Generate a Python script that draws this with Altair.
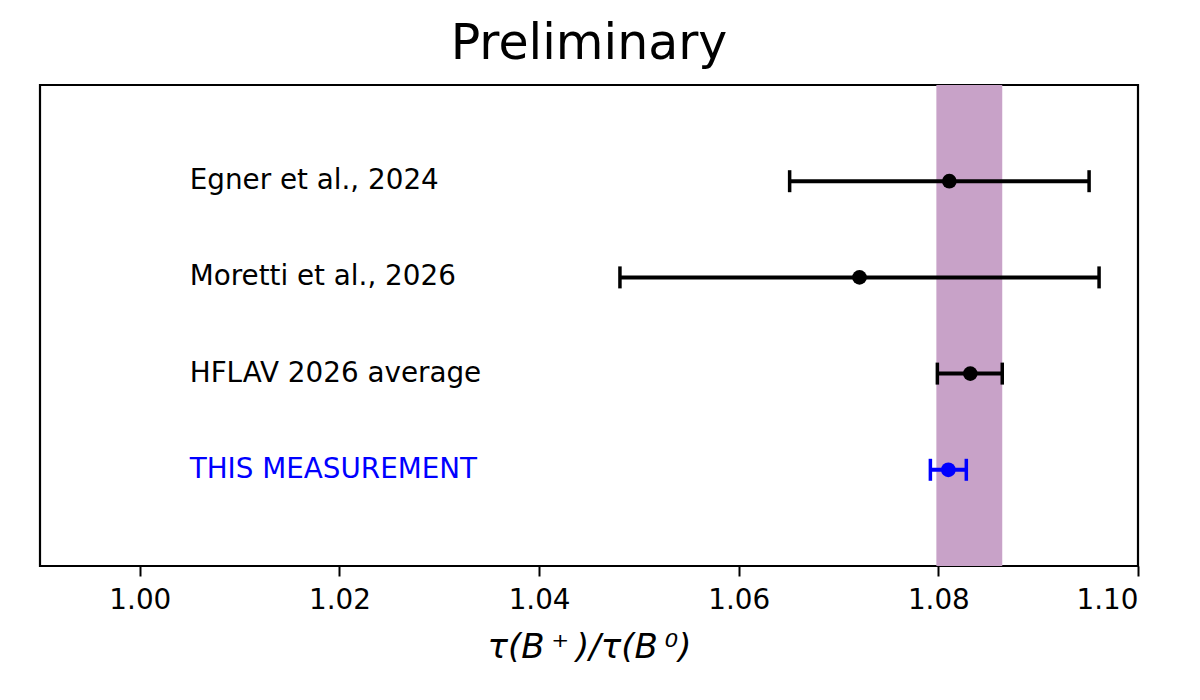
import altair as alt
import pandas as pd

labels = ["Egner et al., 2024", "Moretti et al., 2026", "HFLAV 2026 average", "THIS MEASUREMENT"]
ypos = [4, 3, 2, 1]
center = [1.0811, 1.0721, 1.0832, 1.0810]
lo = [1.0651, 1.0481, 1.0799, 1.0792]
hi = [1.0951, 1.0961, 1.0864, 1.0828]
colors = ["black", "black", "black", "blue"]
band_lo = [1.0798]
band_hi = [1.0864]
xticks = [1.00, 1.02, 1.04, 1.06, 1.08, 1.10]

df = pd.DataFrame({"label": labels, "y": ypos, "c": center, "lo": lo, "hi": hi, "col": colors})
band = pd.DataFrame({"lo": band_lo, "hi": band_hi})

W, H = 1098, 481
FONT = "DejaVu Sans"

xscale = alt.Scale(domain=[0.99, 1.10], nice=False, zero=False)
yscale = alt.Scale(domain=[0, 5], nice=False, zero=False)

xaxis = alt.Axis(values=xticks, format=".2f", title="τ(B\u2009⁺\u2009)/τ(B\u2009⁰)", grid=False, domain=False,
                 tickSize=10, tickWidth=2, tickColor="black", labelPadding=10,
                 labelFontSize=27.8, labelFont=FONT, labelColor="black",
                 titleFont=FONT, titleFontSize=34, titleFontWeight="normal", titleFontStyle="italic",
                 titleColor="black", titleBaseline="alphabetic", titleY=91)

base = alt.Chart(df)

bandlayer = alt.Chart(band).mark_rect(color="#C8A2C8", opacity=1).encode(
    x=alt.X("lo:Q", scale=xscale, axis=xaxis),
    x2="hi:Q",
    y=alt.value(0),
    y2=alt.value(H),
)

bars = base.mark_rule(strokeWidth=4, opacity=1).encode(
    x=alt.X("lo:Q", scale=xscale),
    x2="hi:Q",
    y=alt.Y("y:Q", scale=yscale, axis=None),
    color=alt.Color("col:N", scale=None),
)

caps_lo = base.mark_tick(orient="vertical", size=22, thickness=3.5, opacity=1).encode(
    x=alt.X("lo:Q", scale=xscale),
    y=alt.Y("y:Q", scale=yscale),
    color=alt.Color("col:N", scale=None),
)
caps_hi = base.mark_tick(orient="vertical", size=22, thickness=3.5, opacity=1).encode(
    x=alt.X("hi:Q", scale=xscale),
    y=alt.Y("y:Q", scale=yscale),
    color=alt.Color("col:N", scale=None),
)

pts = base.mark_point(filled=True, size=215, opacity=1, shape="circle").encode(
    x=alt.X("c:Q", scale=xscale),
    y=alt.Y("y:Q", scale=yscale),
    color=alt.Color("col:N", scale=None),
)

txt = base.mark_text(align="left", baseline="middle", font=FONT, fontSize=27.8).encode(
    x=alt.X("lx:Q", scale=xscale),
    y=alt.Y("y:Q", scale=yscale),
    text="label:N",
    color=alt.Color("col:N", scale=None),
).transform_calculate(lx="1.005")

chart = alt.layer(bandlayer, bars, caps_lo, caps_hi, pts, txt).properties(
    width=W, height=H,
    title=alt.TitleParams("Preliminary", font=FONT, fontSize=49, fontWeight="normal",
                          color="black", anchor="middle", baseline="alphabetic", offset=28, dy=51),
    autosize=alt.AutoSizeParams(type="none"),
    padding={"left": 32, "top": 77, "right": 50, "bottom": 100},
).configure(background="white", view=alt.ViewConfig(stroke="black", strokeWidth=2.2))

chart.save("out.html", embed_options={"renderer": "svg", "actions": False})
